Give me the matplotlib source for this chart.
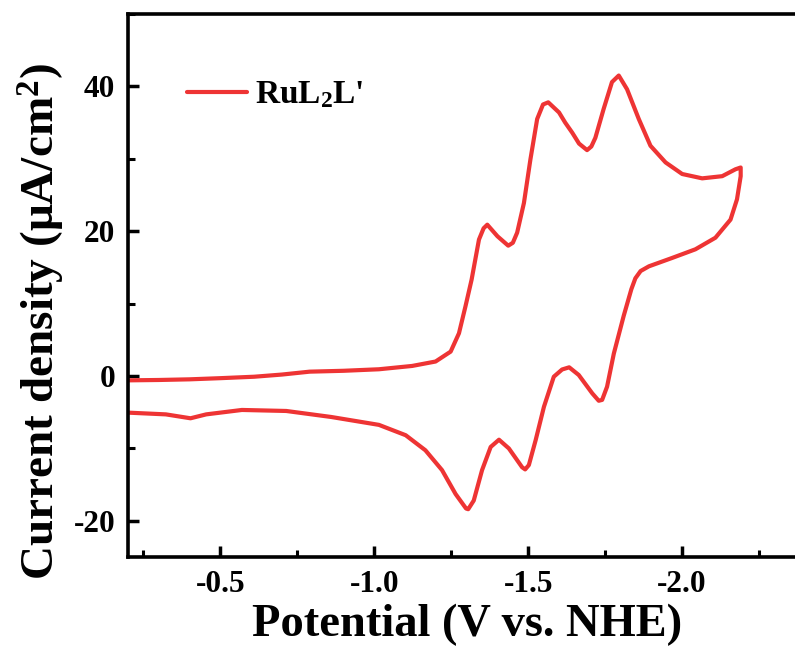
import matplotlib
matplotlib.use("Agg")
import matplotlib.pyplot as plt
from matplotlib.ticker import MultipleLocator, FixedLocator

plt.rcParams['font.family'] = ['Liberation Serif', 'DejaVu Serif']
plt.rcParams['font.weight'] = 'bold'
plt.rcParams['mathtext.fontset'] = 'custom'
plt.rcParams['mathtext.rm'] = 'Liberation Serif'
plt.rcParams['mathtext.bf'] = 'Liberation Serif:bold'
plt.rcParams['mathtext.it'] = 'Liberation Serif:italic'
plt.rcParams['mathtext.default'] = 'bf'

# Forward (cathodic) scan
fwd_v = [-0.20, -0.30, -0.40, -0.50, -0.61, -0.70, -0.79, -0.90, -1.015, -1.123,
         -1.199, -1.248, -1.275, -1.296, -1.316, -1.34, -1.355, -1.367, -1.40, -1.435,
         -1.45, -1.464, -1.486, -1.507, -1.529, -1.548, -1.565, -1.60, -1.62, -1.643,
         -1.665, -1.691, -1.705, -1.718, -1.745, -1.772, -1.794, -1.821, -1.859, -1.897,
         -1.946, -2.00, -2.065, -2.13, -2.173, -2.19]
fwd_i = [-0.6, -0.55, -0.46, -0.30, -0.10, 0.20, 0.60, 0.72, 0.93, 1.39,
         2.0, 3.37, 5.9, 9.6, 13.3, 18.85, 20.4, 20.9, 19.3, 18.0,
         18.4, 19.8, 23.9, 29.9, 35.5, 37.5, 37.8, 36.4, 35.0, 33.6,
         32.1, 31.2, 31.7, 32.9, 36.9, 40.6, 41.5, 39.6, 35.5, 31.8,
         29.5, 27.9, 27.3, 27.6, 28.55, 28.8]

# Reverse (anodic) scan
rev_v = [-2.19, -2.178, -2.157, -2.108, -2.043, -1.967, -1.892, -1.865, -1.848, -1.835,
         -1.81, -1.778, -1.756, -1.74, -1.729, -1.708, -1.664, -1.633, -1.61, -1.583,
         -1.551, -1.524, -1.502, -1.49, -1.48, -1.437, -1.405, -1.378, -1.35, -1.323,
         -1.305, -1.298, -1.264, -1.22, -1.166, -1.102, -1.015, -0.86, -0.714, -0.57,
         -0.454, -0.403, -0.323, -0.20]
rev_i = [27.6, 24.4, 21.6, 19.1, 17.5, 16.3, 15.15, 14.5, 13.5, 12.0,
         8.3, 3.1, -1.48, -3.3, -3.42, -2.4, 0.14, 1.2, 0.9, -0.1,
         -4.25, -8.87, -12.3, -12.9, -12.6, -10.0, -8.8, -9.8, -13.0, -17.2,
         -18.4, -18.3, -16.3, -13.0, -10.26, -8.18, -6.75, -5.66, -4.83, -4.69,
         -5.3, -5.84, -5.3, -5.06]

series_label = "RuL$_\\mathbf{2}$L'"
x_ticks = [-0.5, -1.0, -1.5, -2.0]
y_ticks = [-20, 0, 20, 40]

fig = plt.figure(figsize=(7.95, 6.57), dpi=100)
ax = fig.add_axes([0.161, 0.1522, 0.852, 0.8265])

ax.plot(fwd_v + rev_v, fwd_i + rev_i, color='#EE3434', lw=3.0,
        solid_joinstyle='round', solid_capstyle='round', label=series_label)

ax.set_xlim(-0.2, -2.4)
ax.set_ylim(-25, 50)
ax.xaxis.set_major_locator(FixedLocator(x_ticks))
ax.yaxis.set_major_locator(FixedLocator(y_ticks))
ax.xaxis.set_minor_locator(MultipleLocator(0.25))
ax.yaxis.set_minor_locator(MultipleLocator(10))
ax.set_xticklabels([f"{t:.1f}" for t in x_ticks])
ax.set_yticklabels([f"{t:d}" for t in y_ticks])

for s in ['left', 'bottom', 'top']:
    ax.spines[s].set_linewidth(2.6)
ax.spines['right'].set_visible(False)

ax.tick_params(axis='both', which='major', direction='in', length=8, width=2.5,
               labelsize=22.5, pad=9)
ax.tick_params(axis='both', which='minor', direction='in', length=5, width=2.2)
ax.tick_params(top=False, right=False, which='both')
for lab in ax.get_xticklabels() + ax.get_yticklabels():
    lab.set_fontweight('bold')

ax.set_xlabel("Potential (V vs. NHE)", fontsize=33.5, fontweight='bold', labelpad=4)
ax.set_ylabel("Current density $\\mathrm{(μ}$A/cm$^\\mathbf{2}$$\\mathrm{)}$",
              fontsize=34, fontweight='bold')
ax.yaxis.set_label_coords(-0.09, 0.433)

leg = ax.legend(loc='upper left', bbox_to_anchor=(0.043, 0.935), frameon=False,
                handlelength=1.8, handletextpad=0.25,
                prop={'family': 'Liberation Serif', 'weight': 'bold', 'size': 24})

fig.savefig("out.png", dpi=100)
